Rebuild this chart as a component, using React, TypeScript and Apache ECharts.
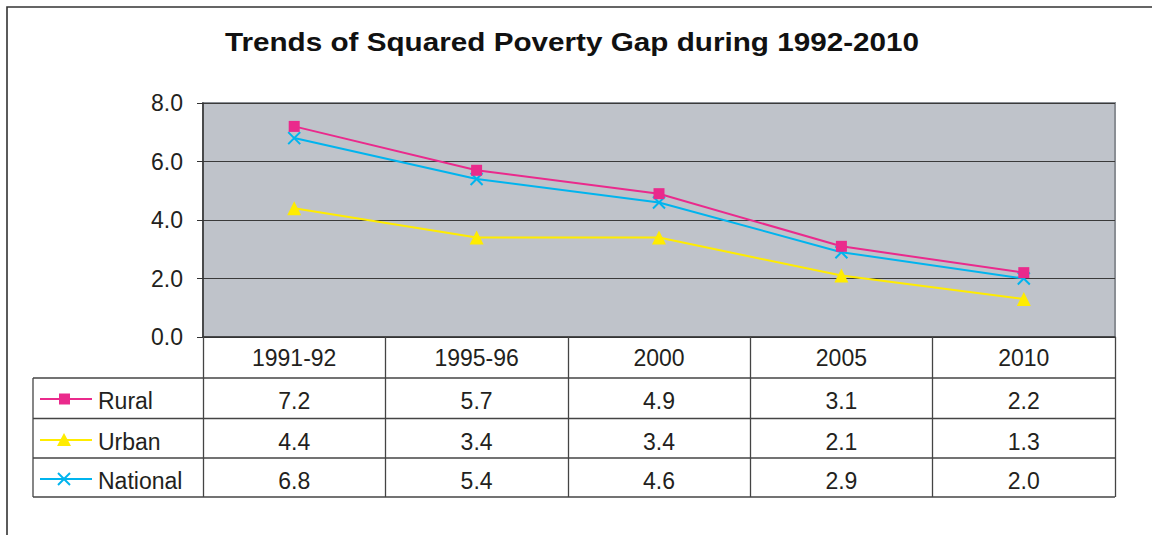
import React, { useEffect, useRef } from "react";
import * as echarts from "echarts";

const categories = ["1991-92", "1995-96", "2000", "2005", "2010"];
const seriesNames = ["Rural", "Urban", "National"];
const rural = [7.2, 5.7, 4.9, 3.1, 2.2];
const urban = [4.4, 3.4, 3.4, 2.1, 1.3];
const national = [6.8, 5.4, 4.6, 2.9, 2.0];
const titleText = "Trends of Squared Poverty Gap during 1992-2010";

const W = 1152;
const H = 535;
const FONT = "'Liberation Sans', Arial, Helvetica, sans-serif";
const TXT = "#231f20";
const COLORS = ["#ea2a8c", "#ffec00", "#00b4ee"];

const GRID_L = 203;
const GRID_R = 1115;
const GRID_T = 103;
const GRID_B = 337;
const TABLE_L = 33;
const ROW_LINES = [378, 418.5, 458, 497];
const ROW_TEXT_Y = [401, 442, 481];

export default function App() {
  const ref = useRef<HTMLDivElement>(null);

  useEffect(() => {
    if (!ref.current) return;
    const chart = echarts.init(ref.current, undefined, { renderer: "svg" });
    const allData = [rural, urban, national];
    const colW = (GRID_R - GRID_L) / categories.length;

    const graphics: any[] = [];
    // outer frame
    graphics.push({
      type: "polyline",
      silent: true,
      shape: { points: [[7, H + 2], [7, 7], [W + 2, 7]] },
      style: { stroke: "#333", lineWidth: 1.6, fill: "none" },
    });
    // title
    graphics.push({
      type: "text",
      x: 572,
      y: 42,
      scaleX: 1.12,
      style: {
        text: titleText,
        font: `bold 26.5px ${FONT}`,
        fill: "#111",
        textAlign: "center",
        textVerticalAlign: "middle",
      },
    });
    // table horizontal lines
    ROW_LINES.forEach((y) => {
      graphics.push({
        type: "line",
        silent: true,
        shape: { x1: TABLE_L, y1: y, x2: GRID_R, y2: y },
        style: { stroke: "#444", lineWidth: 1.3 },
      });
    });
    // table left border
    graphics.push({
      type: "line",
      silent: true,
      shape: { x1: TABLE_L, y1: ROW_LINES[0], x2: TABLE_L, y2: ROW_LINES[ROW_LINES.length - 1] },
      style: { stroke: "#444", lineWidth: 1.3 },
    });
    // legend keys and values
    allData.forEach((vals, i) => {
      const cy = ROW_TEXT_Y[i];
      const ly = cy - 2;
      const color = COLORS[i];
      graphics.push({
        type: "line",
        shape: { x1: 40, y1: ly, x2: 92, y2: ly },
        style: { stroke: color, lineWidth: 2 },
      });
      if (i === 0) {
        graphics.push({
          type: "rect",
          shape: { x: 59, y: ly - 5.5, width: 11, height: 11 },
          style: { fill: color },
        });
      } else if (i === 1) {
        graphics.push({
          type: "polygon",
          shape: { points: [[64, ly - 7], [71, ly + 6], [57, ly + 6]] },
          style: { fill: color },
        });
      } else {
        graphics.push({
          type: "line",
          shape: { x1: 58, y1: ly - 6, x2: 70, y2: ly + 6 },
          style: { stroke: color, lineWidth: 2 },
        });
        graphics.push({
          type: "line",
          shape: { x1: 70, y1: ly - 6, x2: 58, y2: ly + 6 },
          style: { stroke: color, lineWidth: 2 },
        });
      }
      graphics.push({
        type: "text",
        x: 98,
        y: cy,
        style: {
          text: seriesNames[i],
          font: `23px ${FONT}`,
          fill: TXT,
          textAlign: "left",
          textVerticalAlign: "middle",
        },
      });
      vals.forEach((v, j) => {
        graphics.push({
          type: "text",
          x: GRID_L + (j + 0.5) * colW,
          y: cy,
          style: {
            text: v.toFixed(1),
            font: `23px ${FONT}`,
            fill: TXT,
            textAlign: "center",
            textVerticalAlign: "middle",
          },
        });
      });
    });

    const symbols = ["rect", "triangle", "path://M0,0L10,10M10,0L0,10"];
    const symbolSizes = [11, 14, 12];

    chart.setOption({
      animation: false,
      textStyle: { fontFamily: FONT },
      grid: {
        left: GRID_L,
        right: W - GRID_R,
        top: GRID_T,
        bottom: H - GRID_B,
        show: true,
        backgroundColor: "#bfc3ca",
        borderColor: "#8a8e94",
        borderWidth: 2,
      },
      xAxis: {
        type: "category",
        data: categories,
        boundaryGap: true,
        axisLine: { show: true, lineStyle: { color: "#333", width: 1.5 } },
        axisTick: { show: true, length: 497 - GRID_B, lineStyle: { color: "#444", width: 1.3 } },
        axisLabel: { fontSize: 23, color: TXT, margin: 9, fontFamily: FONT },
        splitLine: { show: false },
      },
      yAxis: {
        type: "value",
        min: 0,
        max: 8,
        interval: 2,
        axisLine: { show: true, lineStyle: { color: "#333", width: 1.5 } },
        axisTick: { show: true, length: 6, lineStyle: { color: "#333" } },
        axisLabel: {
          fontSize: 23,
          color: TXT,
          margin: 20,
          fontFamily: FONT,
          formatter: (v: number) => v.toFixed(1),
        },
        splitLine: { show: true, lineStyle: { color: "#3a3a3a", width: 1.2 } },
      },
      series: allData.map((d, i) => ({
        name: seriesNames[i],
        type: "line",
        data: d,
        symbol: symbols[i],
        symbolSize: symbolSizes[i],
        showAllSymbol: true,
        lineStyle: { color: COLORS[i], width: 2 },
        itemStyle:
          i === 2
            ? { color: "none", borderColor: COLORS[i], borderWidth: 2 }
            : { color: COLORS[i], borderWidth: 0 },
        emphasis: { disabled: true },
        z: 3 - i,
      })),
      graphic: graphics,
    });

    return () => chart.dispose();
  }, []);

  return (
    <div
      ref={ref}
      style={{ position: "fixed", left: 0, top: 0, width: W, height: H, background: "#fff" }}
    />
  );
}
